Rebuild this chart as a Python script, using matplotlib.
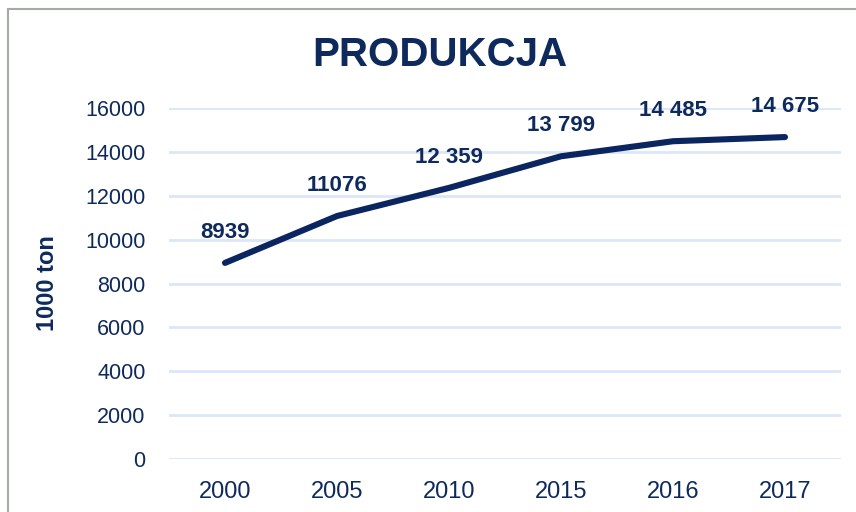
import matplotlib
matplotlib.use('Agg')
import matplotlib.pyplot as plt
from matplotlib.patches import Rectangle

years = ['2000', '2005', '2010', '2015', '2016', '2017']
production = [8939, 11076, 12359, 13799, 14485, 14675]
value_labels = ['8939', '11076', '12 359', '13 799', '14 485', '14 675']
yticks = [0, 2000, 4000, 6000, 8000, 10000, 12000, 14000, 16000]

navy = '#0B2560'
text_c = '#0E2A5C'

plt.rcParams['font.family'] = ['Liberation Sans', 'DejaVu Sans']

fig = plt.figure(figsize=(8.56, 5.12), dpi=100)
# outer frame of the chart area (cut off at right and bottom)
fig.patches.append(Rectangle((8 / 856, -0.1), 1.2, 1 - 9 / 512 + 0.1,
                             transform=fig.transFigure, fill=False,
                             edgecolor='#A3ABA3', linewidth=1.5))

ax = fig.add_axes([169 / 856, 1 - 459 / 512, (841 - 169) / 856, (459 - 108) / 512])
x = range(len(years))
ax.plot(x, production, color=navy, linewidth=4.4, solid_capstyle='round',
        solid_joinstyle='round', clip_on=False, zorder=3)
for i, (v, lab) in enumerate(zip(production, value_labels)):
    ax.annotate(lab, (i, v), xytext=(0, 22), textcoords='offset points',
                ha='center', va='center', fontsize=16, fontweight='bold', color=text_c)

ax.set_xlim(-0.5, len(years) - 0.5)
ax.set_ylim(0, 16000)
ax.set_yticks(yticks)
ax.set_yticklabels([str(t) for t in yticks])
ax.set_xticks(list(x))
ax.set_xticklabels(years)
ax.grid(axis='y', color='#DCE6F8', linewidth=2)
ax.set_axisbelow(True)
for s in ax.spines.values():
    s.set_visible(False)
ax.tick_params(length=0, colors=text_c)
ax.tick_params(axis='y', pad=17, labelsize=15.5)
ax.tick_params(axis='x', pad=16, labelsize=17)
ax.set_ylabel('1000 ton', fontsize=17, fontweight='bold', color=text_c, labelpad=19)

fig.text(440 / 856, 1 - 55 / 512, 'PRODUKCJA', ha='center', va='center',
         fontsize=29, fontweight='bold', color=text_c)

fig.savefig('out.png', dpi=100)
